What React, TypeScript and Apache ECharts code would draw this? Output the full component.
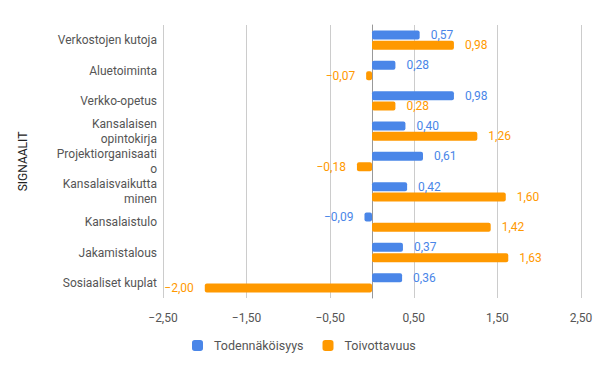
import React, { useEffect, useRef } from "react";
import * as echarts from "echarts";

const categories = [
  "Verkostojen kutoja",
  "Aluetoiminta",
  "Verkko-opetus",
  "Kansalaisen\nopintokirja",
  "Projektiorganisaati\no",
  "Kansalaisvaikutta\nminen",
  "Kansalaistulo",
  "Jakamistalous",
  "Sosiaaliset kuplat",
];
const todennakoisyys = [0.57, 0.28, 0.98, 0.4, 0.61, 0.42, -0.09, 0.37, 0.36];
const toivottavuus = [0.98, -0.07, 0.28, 1.26, -0.18, 1.6, 1.42, 1.63, -2.0];
const seriesNames = ["Todennäköisyys", "Toivottavuus"];
const colors = ["#4a86e8", "#ff9900"];

const fmt = (v: number) => {
  const s = Math.abs(v).toFixed(2).replace(".", ",");
  return v < 0 ? "\u2212" + s : s;
};

const makeData = (vals: number[]) =>
  vals.map((v) => ({
    value: v,
    label: { position: v < 0 ? "left" : "right" },
  }));

export default function App() {
  const ref = useRef<HTMLDivElement>(null);
  useEffect(() => {
    document.body.style.margin = "0";
    if (!ref.current) return;
    const chart = echarts.init(ref.current, null, { renderer: "svg" });
    const font = "Roboto, Arial, sans-serif";
    chart.setOption({
      animation: false,
      textStyle: { fontFamily: font },
      grid: { left: 163, right: 19, top: 25, bottom: 73, containLabel: false },
      legend: {
        bottom: 14,
        left: 187,
        icon: "roundRect",
        itemWidth: 11,
        itemHeight: 11,
        itemGap: 19,
        textStyle: {
          color: "#555",
          fontSize: 12.5,
          fontFamily: font,
          padding: [0, 0, 0, 6],
        },
        data: seriesNames,
      },
      xAxis: {
        type: "value",
        min: -2.5,
        max: 2.5,
        interval: 1,
        axisLine: { show: false },
        axisTick: { show: false },
        splitLine: { lineStyle: { color: "#cccccc" } },
        axisLabel: {
          color: "#555",
          fontSize: 12,
          margin: 14,
          fontFamily: font,
          formatter: (v: number) => fmt(v),
        },
      },
      yAxis: {
        type: "category",
        inverse: true,
        data: categories,
        name: "SIGNAALIT",
        nameLocation: "middle",
        nameRotate: 90,
        nameGap: 134,
        nameMoveOverlap: false,
        nameTextStyle: { color: "#222", fontSize: 12, fontFamily: font },
        axisLine: { show: true, lineStyle: { color: "#999" } },
        axisTick: { show: false },
        axisLabel: {
          color: "#555",
          fontSize: 12,
          margin: 6,
          lineHeight: 15,
          fontFamily: font,
        },
      },
      series: [todennakoisyys, toivottavuus].map((vals, i) => ({
        name: seriesNames[i],
        type: "bar",
        data: makeData(vals),
        barWidth: 9,
        barGap: "15%",
        itemStyle: { color: colors[i], borderRadius: 2 },
        label: {
          show: true,
          distance: 11,
          color: colors[i],
          fontSize: 12,
          fontFamily: font,
          formatter: (p: any) => fmt(p.value),
        },
      })),
    });
    return () => chart.dispose();
  }, []);
  return <div ref={ref} style={{ width: 600, height: 371 }} />;
}
